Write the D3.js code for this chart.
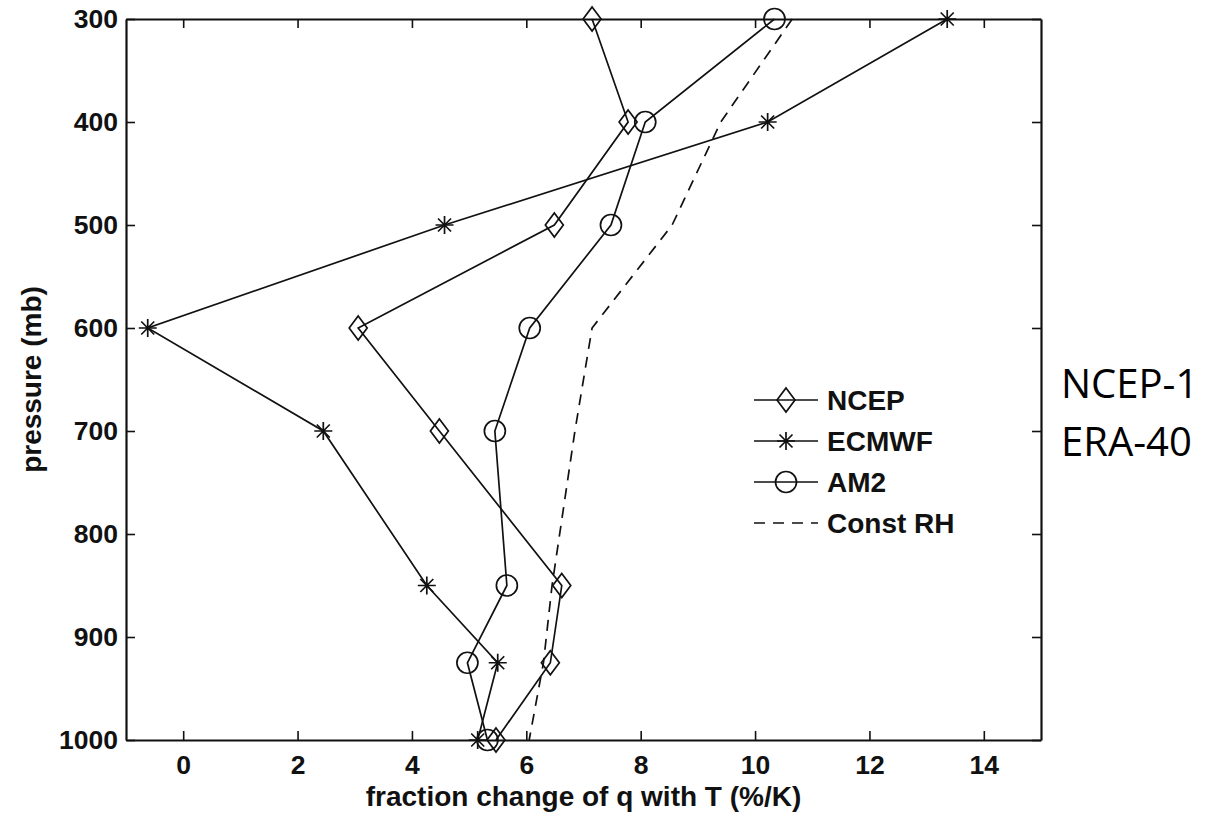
<!DOCTYPE html>
<html>
<head>
<meta charset="utf-8">
<script src="https://cdn.jsdelivr.net/npm/d3@7"></script>
<style>
  html, body { margin: 0; padding: 0; background: #fff; }
  svg { display: block; }
</style>
</head>
<body>
<svg id="chart" width="1230" height="813"></svg>
<script>
// ---- data ----
const pressure = [300, 400, 500, 600, 700, 850, 925, 1000];
const ncep  = [7.15, 7.78, 6.49, 3.06, 4.48, 6.62, 6.42, 5.47];
const ecmwf = [13.36, 10.22, 4.57, -0.62, 2.45, 4.26, 5.50, 5.15];
const am2   = [10.34, 8.08, 7.48, 6.06, 5.45, 5.66, 4.97, 5.32];
const constRH = [10.65, 9.40, 8.55, 7.15, 6.85, 6.45, 6.30, 6.05];
const xTicks = [0, 2, 4, 6, 8, 10, 12, 14];
const yTicks = [300, 400, 500, 600, 700, 800, 900, 1000];
const seriesNames = ["NCEP", "ECMWF", "AM2", "Const RH"];
const sideLabels = ["NCEP-1", "ERA-40"];

// ---- layout ----
const svg = d3.select("#chart");
const L = 126, R = 1041, T = 19, B = 740;
const x = d3.scaleLinear().domain([-1, 15]).range([L, R]);
const y = d3.scaleLinear().domain([300, 1000]).range([T, B]);
const FONT = "'Liberation Sans', Arial, Helvetica, sans-serif";
const INK = "#111";

// axes (MATLAB style box, inward ticks)
function styleAxis(g) {
  g.select(".domain").attr("stroke", INK).attr("stroke-width", 2.2);
  g.selectAll(".tick line").attr("stroke", INK).attr("stroke-width", 1.6);
  g.selectAll(".tick text").attr("fill", INK)
    .style("font-family", FONT).style("font-weight", "bold").style("font-size", "26.5px");
}
svg.append("g").attr("transform", `translate(0,${B})`)
  .call(d3.axisBottom(x).tickValues(xTicks).tickFormat(d3.format("d"))
    .tickSize(-9).tickPadding(15).tickSizeOuter(0))
  .call(styleAxis);
svg.append("g").attr("transform", `translate(0,${T})`)
  .call(d3.axisTop(x).tickValues(xTicks).tickSize(-9).tickFormat("").tickSizeOuter(0))
  .call(styleAxis);
svg.append("g").attr("transform", `translate(${L},0)`)
  .call(d3.axisLeft(y).tickValues(yTicks).tickFormat(d3.format("d"))
    .tickSize(-9).tickPadding(8).tickSizeOuter(0))
  .call(styleAxis);
svg.append("g").attr("transform", `translate(${R},0)`)
  .call(d3.axisRight(y).tickValues(yTicks).tickSize(-9).tickFormat("").tickSizeOuter(0))
  .call(styleAxis);

// axis titles
svg.append("text")
  .attr("x", (L + R) / 2).attr("y", 806)
  .attr("text-anchor", "middle")
  .style("font-family", FONT).style("font-weight", "bold").style("font-size", "28px")
  .attr("fill", INK)
  .text("fraction change of q with T (%/K)");
svg.append("text")
  .attr("transform", `translate(41,${(T + B) / 2}) rotate(-90)`)
  .attr("text-anchor", "middle")
  .style("font-family", FONT).style("font-weight", "bold").style("font-size", "28px")
  .attr("fill", INK)
  .text("pressure (mb)");

// markers
function drawMarker(g, type, cx, cy) {
  if (type === "diamond") {
    g.append("path")
      .attr("d", `M${cx},${cy - 12}L${cx + 9},${cy}L${cx},${cy + 12}L${cx - 9},${cy}Z`)
      .attr("fill", "none").attr("stroke", INK).attr("stroke-width", 1.7);
  } else if (type === "circle") {
    g.append("circle").attr("cx", cx).attr("cy", cy).attr("r", 10.5)
      .attr("fill", "none").attr("stroke", INK).attr("stroke-width", 1.7);
  } else if (type === "star") {
    const s = 9, d = 6.5;
    g.append("path")
      .attr("d", `M${cx},${cy - s}L${cx},${cy + s}M${cx - s},${cy}L${cx + s},${cy}` +
                 `M${cx - d},${cy - d}L${cx + d},${cy + d}M${cx - d},${cy + d}L${cx + d},${cy - d}`)
      .attr("fill", "none").attr("stroke", INK).attr("stroke-width", 1.7);
  }
}

const line = d3.line().x(d => x(d[0])).y(d => y(d[1]));
const series = [
  { name: seriesNames[0], vals: ncep, marker: "diamond", dash: null },
  { name: seriesNames[1], vals: ecmwf, marker: "star", dash: null },
  { name: seriesNames[2], vals: am2, marker: "circle", dash: null },
  { name: seriesNames[3], vals: constRH, marker: null, dash: "11,8" }
];

const plot = svg.append("g");
series.forEach(s => {
  const pts = s.vals.map((v, i) => [v, pressure[i]]);
  plot.append("path").datum(pts).attr("d", line)
    .attr("fill", "none").attr("stroke", INK).attr("stroke-width", 1.7)
    .attr("stroke-dasharray", s.dash);
  if (s.marker) pts.forEach(p => drawMarker(plot, s.marker, x(p[0]), y(p[1])));
});

// legend
const lg = svg.append("g");
const lx0 = 754, lx1 = 818, lxm = 786, lrows = [400, 441, 482, 523];
series.forEach((s, i) => {
  const yy = lrows[i];
  lg.append("line").attr("x1", lx0).attr("x2", lx1).attr("y1", yy).attr("y2", yy)
    .attr("stroke", INK).attr("stroke-width", 1.7).attr("stroke-dasharray", s.dash);
  if (s.marker) drawMarker(lg, s.marker, lxm, yy);
  lg.append("text").attr("x", 827).attr("y", yy + 10)
    .style("font-family", FONT).style("font-weight", "bold").style("font-size", "28px")
    .attr("fill", INK).text(s.name);
});

// side annotation
sideLabels.forEach((t, i) => {
  svg.append("text").attr("x", 1061).attr("y", 398 + i * 58)
    .style("font-family", "'Open Sans', 'Noto Sans', sans-serif").style("font-size", "40px")
    .attr("fill", "#000").text(t);
});
</script>
</body>
</html>
